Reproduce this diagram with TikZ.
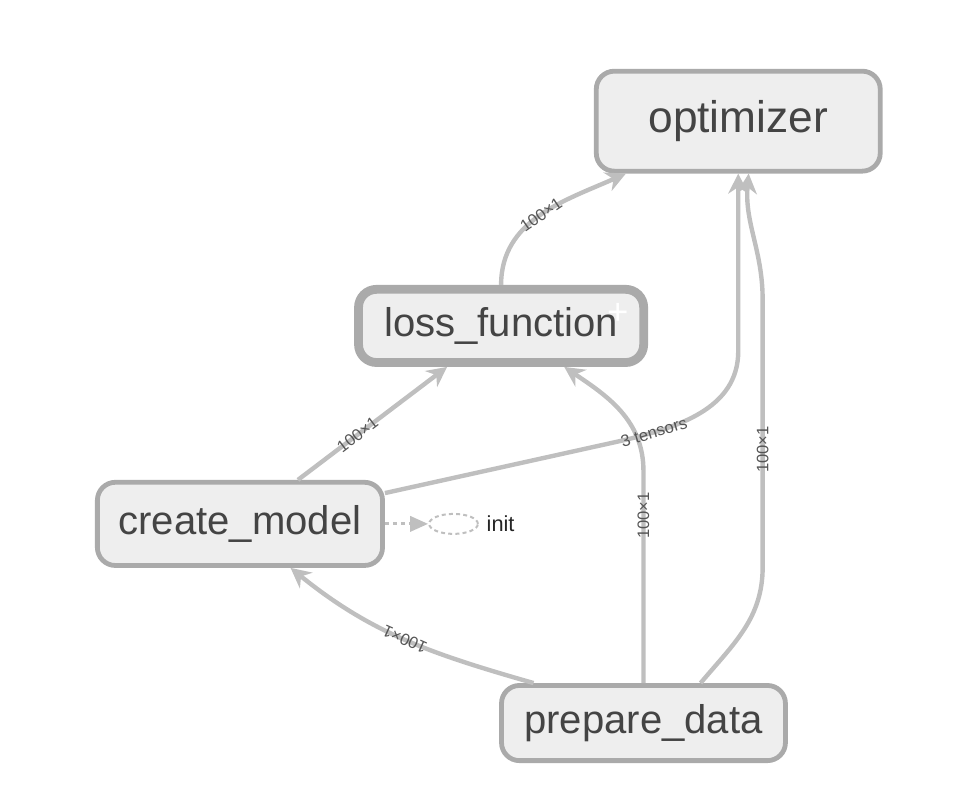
\documentclass[tikz,border=0pt]{standalone}
\usepackage{fontspec}
\setmainfont{Liberation Sans}
\usepackage{tikz}
\usetikzlibrary{calc}
\usetikzlibrary{arrows.meta}
\usetikzlibrary{positioning}
\usetikzlibrary{shapes.geometric}
\definecolor{nodefill}{RGB}{238, 238, 238}
\definecolor{nodeborder}{RGB}{170, 170, 170}
\definecolor{edgegray}{RGB}{191, 191, 191}
\definecolor{labelgray}{RGB}{85, 85, 85}
\definecolor{nodetext}{RGB}{68, 68, 68}
\tikzset{
  opnode/.style={draw=nodeborder, fill=nodefill, rounded corners=0.45cm, line width=0.12cm,
                 text=nodetext, inner sep=0pt, font=\fontsize{28.5}{34}\selectfont},
  groupnode/.style={opnode, line width=0.22cm},
  dataedge/.style={draw=edgegray, line width=0.11cm, -{Stealth[length=0.5cm, width=0.5cm]}},
  ctrledge/.style={draw=edgegray, line width=0.075cm, dash pattern=on 0.1cm off 0.1cm,
                   -{Triangle[length=0.45cm, width=0.38cm]}},
  edgelabel/.style={text=labelgray, inner sep=1pt, font=\fontsize{11.8}{14}\selectfont},
  initnode/.style={ellipse, draw=edgegray, dash pattern=on 0.1cm off 0.08cm, line width=0.05cm,
                   minimum width=1.22cm, minimum height=0.50cm, inner sep=0pt},
  initlabel/.style={text=black!85, label distance=0.07cm, font=\fontsize{15.5}{18}\selectfont}
}

\begin{document}
\begin{tikzpicture}
  \useasboundingbox ( 0.00,  0.00) rectangle (24.48, 19.98);

  \node[opnode, minimum width=7.10cm, minimum height=2.50cm, font=\fontsize{31.5}{36}\selectfont] (optimizer)     at (18.46, 16.95) {optimizer};
  \node[groupnode, minimum width=7.13cm, minimum height=1.83cm]                                   (loss_function) at (12.53, 11.83) {loss\_function};
  \node[text=white, font=\fontsize{26}{26}\selectfont]                                            (loss_plus)     at (15.45, 12.12) {+};
  \node[opnode, minimum width=7.13cm, minimum height=2.08cm]                                      (create_model)  at ( 6.00,  6.88) {create\_model};
  \node[opnode, minimum width=7.10cm, minimum height=1.88cm]                                      (prepare_data)  at (16.09,  1.90) {prepare\_data};
  \node[initnode, label={[initlabel]right:init}]                                                  (init)          at (11.34,  6.88) {};

  \draw[ctrledge] (create_model) -- (init);
  \draw[dataedge] (loss_function.north) to[out=90, in=204] node[edgelabel, sloped, pos=0.5] {100×1} (optimizer.205);
  \draw[dataedge] (create_model) -- node[edgelabel, sloped, pos=0.4] {100×1} (loss_function);
  \draw[dataedge] (prepare_data.north) -- node[edgelabel, sloped, pos=0.79] {100×1} (16.09,  8.20) to[out=90, in=-34] (loss_function.-33);
  \draw[dataedge] (create_model.12) -- (15.50,  8.95) to[out=13, in=-90] node[edgelabel, sloped, pos=0.2] {3 tensors} (18.46, 11.20) -- (optimizer.south);
  \draw[dataedge] (prepare_data.160) to[out=164, in=-39] node[edgelabel, sloped, allow upside down, pos=0.5] {100×1} (create_model.-41);
  \draw[dataedge] (prepare_data.35) to[out=50, in=-90] (19.07,  5.80) -- node[edgelabel, sloped, pos=0.44] {100×1} (19.07, 12.48) to[out=90, in=-95] ([xshift=0.26cm]optimizer.south);
\end{tikzpicture}
\end{document}
